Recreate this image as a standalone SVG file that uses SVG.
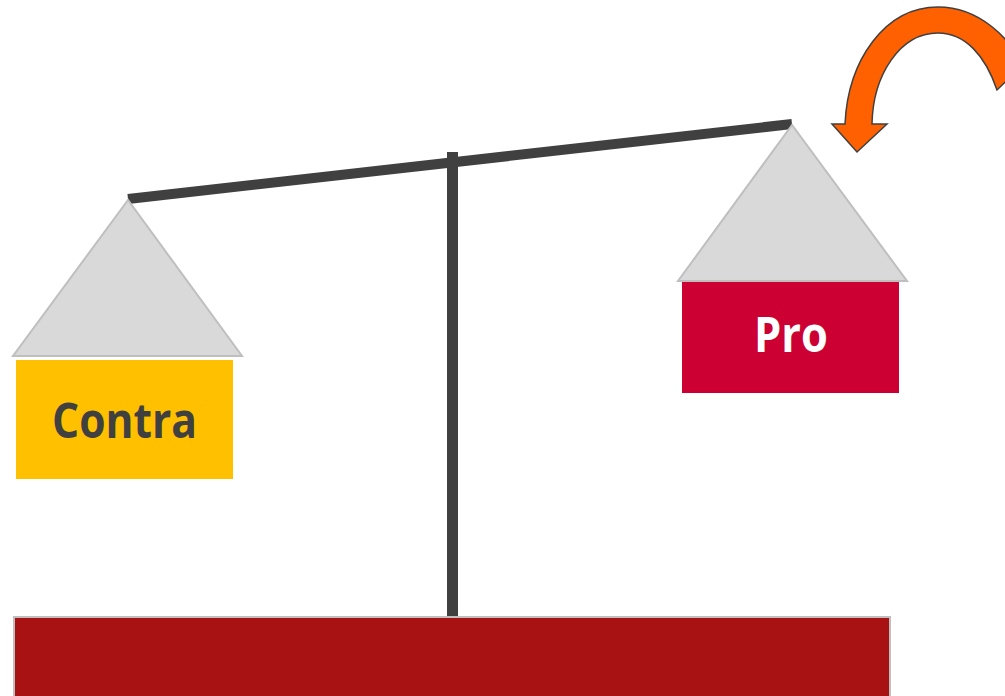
<svg xmlns="http://www.w3.org/2000/svg" width="1005" height="696" viewBox="0 0 1005 696">
<style>
.pan{fill:#d9d9d9;stroke:#bfbfbf;stroke-width:2;stroke-linejoin:miter}
.lbl{font-family:"Open Sans","Liberation Sans",sans-serif;font-weight:bold;font-size:48px;text-anchor:middle}
</style>
<rect width="1005" height="696" fill="#ffffff"/>
<g id="connectors">
<line x1="128" y1="199" x2="792" y2="124" stroke="#404040" stroke-width="10"/>
<rect x="447" y="152" width="11" height="464" fill="#404040"/>
</g>
<g id="base">
<rect x="14" y="617" width="876" height="80" fill="#a91212" stroke="#bfbfbf" stroke-width="2"/>
</g>
<g id="contra">
<polygon class="pan" points="128,200 13,356 242,356"/>
<rect x="16" y="360" width="217" height="119" fill="#ffc000"/>
<text class="lbl" x="124.5" y="438" fill="#404040" textLength="145" lengthAdjust="spacingAndGlyphs">Contra</text>
</g>
<g id="pro">
<polygon class="pan" points="792,125 678,281 907,281"/>
<rect x="682" y="282" width="217" height="111" fill="#cc0033"/>
<text class="lbl" x="791" y="352" fill="#ffffff" textLength="74" lengthAdjust="spacingAndGlyphs">Pro</text>
</g>
<g id="arrow">
<path d="M 832 124 L 857 152 L 887 124 L 872 124 C 873 75 900 33 938 33 C 965 33 985 55 997 90 L 1022 66 C 1012 40 980 7 938 7 C 885 7 848 60 845 124 Z" fill="#ff6000" stroke="#404040" stroke-width="1.5" stroke-linejoin="miter"/>
</g>
</svg>
